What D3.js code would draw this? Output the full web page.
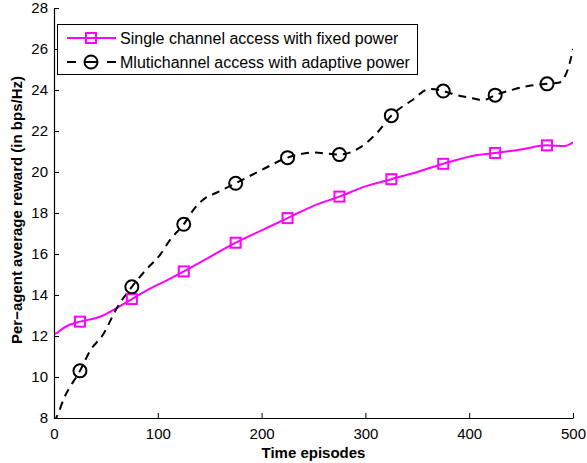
<!DOCTYPE html>
<meta charset="utf-8">
<title>reward chart</title>
<script src="https://cdn.jsdelivr.net/npm/d3@7"></script>
<style>
html, body {
    margin: 0;
    background: #fff;
}
svg {
    display: block;
    font-family: "Liberation Sans", Arial, sans-serif;
}
</style>
<body>
<script>
// episode grid and values
var singleX = [0, 3, 8, 15, 25, 45, 60, 75, 92, 110, 125, 150, 175, 200, 225, 250, 275, 300, 325, 350, 375, 408, 425, 450, 475, 492, 500];
var singleY = [12.1, 12.15, 12.35, 12.55, 12.7, 12.95, 13.35, 13.8, 14.3, 14.75, 15.15, 15.85, 16.55, 17.15, 17.75, 18.35, 18.8, 19.3, 19.65, 20.0, 20.4, 20.83, 20.93, 21.1, 21.3, 21.27, 21.45];

var multiX = [0, 3, 10, 25, 35, 47, 61, 75, 89, 102, 112, 125, 135, 145, 157, 175, 200, 225, 250, 275, 295, 311, 325, 345, 362, 375, 388, 403, 413, 425, 441, 457, 475, 486, 495, 500];
var multiY = [7.8, 8.1, 9.0, 10.3, 11.3, 12.05, 13.4, 14.4, 15.25, 15.95, 16.7, 17.45, 18.2, 18.7, 19.0, 19.45, 20.1, 20.7, 20.95, 20.85, 21.2, 21.9, 22.75, 23.5, 24.05, 23.95, 23.75, 23.6, 23.5, 23.75, 24.0, 24.2, 24.3, 24.35, 25.0, 26.0];

var markerX = [25, 75, 125, 175, 225, 275, 325, 375, 425, 475];
var xTicks = [0, 100, 200, 300, 400, 500];
var yTicks = [8, 10, 12, 14, 16, 18, 20, 22, 24, 26, 28];
var legendLabels = ["Single channel access with fixed power", "Mlutichannel access with adaptive power"];

var width = 587,
    height = 463,
    padLeft = 54,
    padRight = 573,
    padTop = 8,
    padBottom = 418;

var x = d3.scaleLinear().domain([0, 500]).range([padLeft, padRight]);
var y = d3.scaleLinear().domain([8, 28]).range([padBottom, padTop]);

var svg = d3.select("body").append("svg")
    .attr("width", width)
    .attr("height", height);

svg.append("defs").append("clipPath")
    .attr("id", "plot")
  .append("rect")
    .attr("x", padLeft)
    .attr("y", padTop)
    .attr("width", padRight - padLeft)
    .attr("height", padBottom - padTop);

function pairs(xs, ys) {
    return xs.map(function(d, i) { return [d, ys[i]]; });
}
function valueAt(xs, ys, v) {
    return ys[xs.indexOf(v)];
}

var line = d3.line()
    .x(function(d) { return x(d[0]); })
    .y(function(d) { return y(d[1]); })
    .curve(d3.curveMonotoneX);

var plot = svg.append("g").attr("clip-path", "url(#plot)");

plot.append("path")
    .attr("d", line(pairs(singleX, singleY)))
    .attr("fill", "none")
    .attr("stroke", "#ff00ff")
    .attr("stroke-width", 2);

plot.append("path")
    .attr("d", line(pairs(multiX, multiY)))
    .attr("fill", "none")
    .attr("stroke", "#000")
    .attr("stroke-width", 2)
    .attr("stroke-dasharray", "8,6");

plot.selectAll(".sq")
    .data(markerX)
    .enter().append("rect")
    .attr("x", function(d) { return x(d) - 5; })
    .attr("y", function(d) { return y(valueAt(singleX, singleY, d)) - 5; })
    .attr("width", 10)
    .attr("height", 10)
    .attr("fill", "none")
    .attr("stroke", "#ff00ff")
    .attr("stroke-width", 2);

plot.selectAll(".ci")
    .data(markerX)
    .enter().append("circle")
    .attr("cx", function(d) { return x(d); })
    .attr("cy", function(d) { return y(valueAt(multiX, multiY, d)); })
    .attr("r", 6.5)
    .attr("fill", "none")
    .attr("stroke", "#000")
    .attr("stroke-width", 2);

// axes (MATLAB style: ticks inward, only left and bottom)
var xAxis = svg.append("g")
    .attr("transform", "translate(0," + padBottom + ")")
    .call(d3.axisBottom(x).tickValues(xTicks).tickSizeInner(-5).tickSizeOuter(0).tickPadding(10));
var yAxis = svg.append("g")
    .attr("transform", "translate(" + padLeft + ",0)")
    .call(d3.axisLeft(y).tickValues(yTicks).tickSizeInner(-5).tickSizeOuter(0).tickPadding(6));

[xAxis, yAxis].forEach(function(g) {
    g.select(".domain").attr("stroke", "#000").attr("stroke-width", 1.2);
    g.selectAll(".tick line").attr("stroke", "#000");
    g.selectAll(".tick text")
        .attr("fill", "#000")
        .style("font-size", "15px")
        .style("font-family", "'Liberation Sans', Arial, sans-serif");
});

svg.append("text")
    .attr("x", (padLeft + padRight) / 2)
    .attr("y", 458)
    .attr("text-anchor", "middle")
    .style("font-size", "15px")
    .style("font-weight", "bold")
    .text("Time episodes");

svg.append("text")
    .attr("transform", "translate(22,210) rotate(-90)")
    .attr("text-anchor", "middle")
    .style("font-size", "15px")
    .style("font-weight", "bold")
    .text("Per\u2212agent average reward (in bps/Hz)");

// legend
var legend = svg.append("g");
legend.append("rect")
    .attr("x", 57.5)
    .attr("y", 24.5)
    .attr("width", 360)
    .attr("height", 50)
    .attr("fill", "#fff")
    .attr("stroke", "#000")
    .attr("stroke-width", 1);

var rows = legend.selectAll(".row")
    .data(legendLabels)
    .enter().append("g")
    .attr("transform", function(d, i) { return "translate(0," + (38 + i * 24) + ")"; });

rows.append("line")
    .attr("x1", 67)
    .attr("x2", 116)
    .attr("stroke", function(d, i) { return i ? "#000" : "#ff00ff"; })
    .attr("stroke-width", 2)
    .attr("stroke-dasharray", function(d, i) { return i ? "9,31" : null; });

rows.filter(function(d, i) { return i === 0; }).append("rect")
    .attr("x", 86)
    .attr("y", -5)
    .attr("width", 10)
    .attr("height", 10)
    .attr("fill", "none")
    .attr("stroke", "#ff00ff")
    .attr("stroke-width", 2);

rows.filter(function(d, i) { return i === 1; }).append("circle")
    .attr("cx", 91)
    .attr("r", 6.5)
    .attr("fill", "none")
    .attr("stroke", "#000")
    .attr("stroke-width", 2);
rows.filter(function(d, i) { return i === 1; }).append("line")
    .attr("x1", 84).attr("x2", 98)
    .attr("stroke", "#000")
    .attr("stroke-width", 2);

rows.append("text")
    .attr("x", 120)
    .attr("dy", "0.35em")
    .style("font-size", "16px")
    .text(function(d) { return d; });
</script>
</body>
